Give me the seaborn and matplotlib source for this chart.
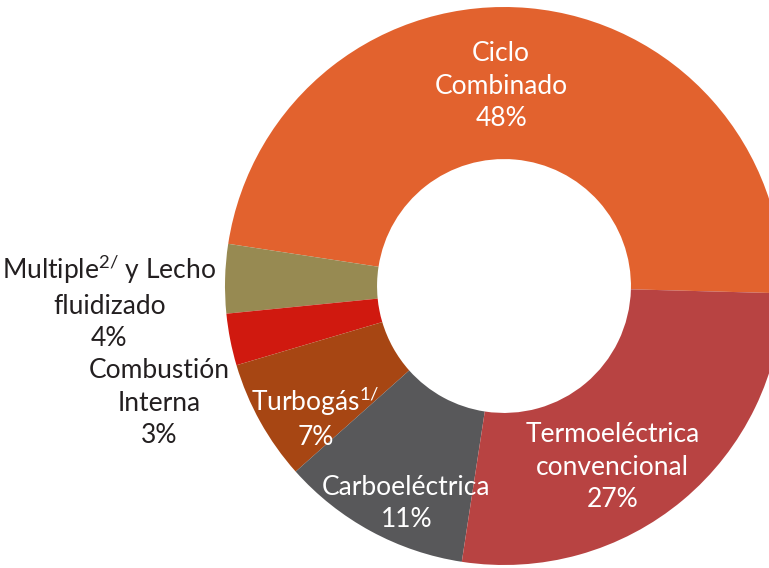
import matplotlib
matplotlib.use("Agg")
import matplotlib.pyplot as plt
import seaborn as sns

# Generación por tecnología (%)
labels = [
    "Ciclo\nCombinado",
    r"Multiple$^{\mathrm{2/}}$ y Lecho" + "\nfluidizado",
    "Combustión\nInterna",
    r"Turbogás$^{\mathrm{1/}}$",
    "Carboeléctrica",
    "Termoeléctrica\nconvencional",
]
shares = [48, 4, 3, 7, 11, 27]
colors = ["#E2622E", "#978A52", "#D0190F", "#A74613", "#58585A", "#B84342"]

# label anchor (pie units, radius = 1) and text color
label_pos = [(-0.01, 0.716), (-1.415, -0.057), (-1.235, -0.42),
             (-0.675, -0.47), (-0.35, -0.78), (0.39, -0.65)]
label_col = ["white", "#231F20", "#231F20", "white", "white", "white"]

sns.set_theme(style="white")
plt.rcParams["font.family"] = ["Lato", "DejaVu Sans"]
plt.rcParams["mathtext.fontset"] = "custom"
plt.rcParams["mathtext.rm"] = "Lato"

fig = plt.figure(figsize=(7.69, 5.68), dpi=100)
ax = fig.add_axes([0, 0, 1, 1])

ax.pie(shares, colors=sns.color_palette(colors), startangle=-1.5,
       counterclock=True, radius=1,
       wedgeprops=dict(width=0.545, linewidth=0))

for lab, val, (x, y), c in zip(labels, shares, label_pos, label_col):
    ax.text(x, y, f"{lab}\n{val}%", ha="center", va="center",
            color=c, fontsize=19, linespacing=1.38)

R = 279.0
ax.set_xlim(-504 / R, (769 - 504) / R)
ax.set_ylim(-282 / R, 286 / R)
ax.set_aspect("equal")
ax.axis("off")

plt.savefig("out.png", dpi=100)
plt.close()
